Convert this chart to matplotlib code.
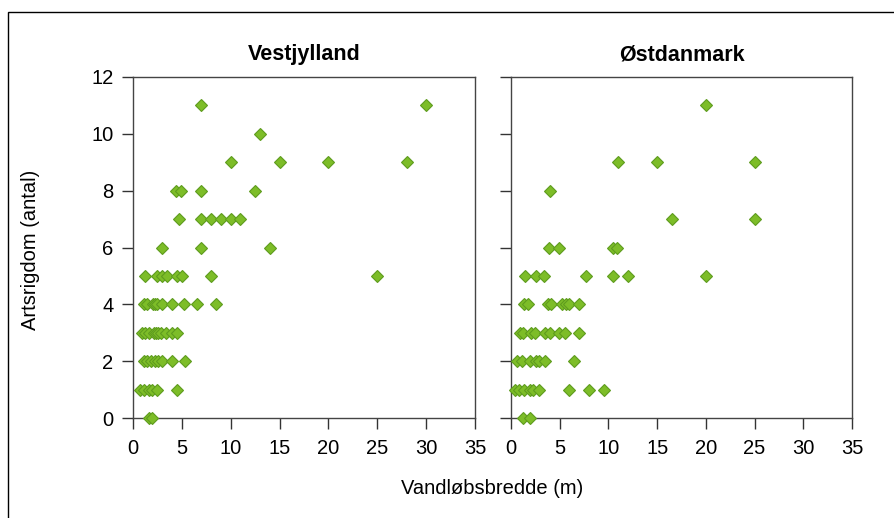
import matplotlib.pyplot as plt
from matplotlib.patches import Rectangle

plt.rcParams['font.family'] = ['Liberation Sans', 'DejaVu Sans']

#Vestjylland: stream width (m) and species richness
west_width = [1.6, 1.95,
              0.75, 1.1, 1.6, 1.9, 2.5, 4.5,
              1.1, 1.4, 1.8, 2.3, 2.6, 3.0, 4.0, 5.3,
              0.9, 1.2, 1.6, 2.1, 2.4, 2.6, 2.9, 3.4, 4.0, 4.5,
              1.1, 1.4, 2.0, 2.3, 2.5, 3.0, 4.0, 5.2, 6.5, 8.5,
              1.2, 2.5, 3.0, 3.5, 4.5, 5.0, 8.0, 25.0,
              3.0, 7.0, 14.0,
              4.7, 7.0, 8.0, 9.0, 10.0, 11.0,
              4.45, 4.95, 7.0, 12.5,
              10.0, 15.0, 20.0, 28.0,
              13.0,
              7.0, 30.0]
west_rich = [0, 0,
             1, 1, 1, 1, 1, 1,
             2, 2, 2, 2, 2, 2, 2, 2,
             3, 3, 3, 3, 3, 3, 3, 3, 3, 3,
             4, 4, 4, 4, 4, 4, 4, 4, 4, 4,
             5, 5, 5, 5, 5, 5, 5, 5,
             6, 6, 6,
             7, 7, 7, 7, 7, 7,
             8, 8, 8, 8,
             9, 9, 9, 9,
             10,
             11, 11]

#Østdanmark
east_width = [1.2, 1.9,
              0.4, 0.8, 1.3, 2.0, 2.3, 2.9, 6.0, 8.0, 9.5,
              0.6, 1.1, 1.9, 2.6, 2.9, 3.5, 6.5,
              0.9, 1.2, 2.1, 2.5, 3.5, 4.0, 4.9, 5.5, 7.0,
              1.3, 1.7, 3.8, 4.1, 5.2, 5.6, 6.0, 7.0,
              1.4, 2.6, 3.4, 7.7, 10.5, 12.0, 20.0,
              3.9, 4.9, 10.5, 10.9,
              16.5, 25.0,
              4.0,
              11.0, 15.0, 25.0,
              20.0]
east_rich = [0, 0,
             1, 1, 1, 1, 1, 1, 1, 1, 1,
             2, 2, 2, 2, 2, 2, 2,
             3, 3, 3, 3, 3, 3, 3, 3, 3,
             4, 4, 4, 4, 4, 4, 4, 4,
             5, 5, 5, 5, 5, 5, 5,
             6, 6, 6, 6,
             7, 7,
             8,
             9, 9, 9,
             11]

titles = ['Vestjylland', 'Østdanmark']
xticks = [0, 5, 10, 15, 20, 25, 30, 35]
yticks = [0, 2, 4, 6, 8, 10, 12]

fig = plt.figure(figsize=(8.95, 5.18), dpi=100)
ax1 = fig.add_axes([133/895, 1-418/518, 342/895, 341/518])
ax2 = fig.add_axes([511/895, 1-418/518, 341/895, 341/518])

for ax, xs, ys, title in [(ax1, west_width, west_rich, titles[0]),
                          (ax2, east_width, east_rich, titles[1])]:
    ax.plot(xs, ys, 'D', ms=6.5, mfc='#7dbd28', mec='#5e9c1e', mew=0.8, clip_on=False, zorder=3)
    ax.set_xlim(0, 35)
    ax.set_ylim(0, 12)
    ax.set_xticks(xticks)
    ax.set_yticks(yticks)
    ax.tick_params(direction='out', length=8, width=1, color='#333333', labelsize=14.5, pad=6)
    ax.tick_params(axis='x', pad=7)
    for s in ax.spines.values():
        s.set_color('#444444')
        s.set_linewidth(1.0)
    ax.set_title(title, fontsize=15.5, fontweight='bold', pad=12)

ax2.tick_params(axis='y', labelleft=False)

fig.text(492/895, 1-489/518, 'Vandløbsbredde (m)', fontsize=14.5, ha='center', va='center')
fig.text(31/895, 1-250/518, 'Artsrigdom (antal)', fontsize=14.5, ha='center', va='center', rotation=90)

#border round the figure (runs off right and bottom)
top = 1 - 12/518
fig.patches.append(Rectangle((8/895, -0.1), 1.2, top + 0.1, transform=fig.transFigure,
                             fill=False, edgecolor='black', linewidth=1.0))

fig.savefig('out.png', dpi=100)
